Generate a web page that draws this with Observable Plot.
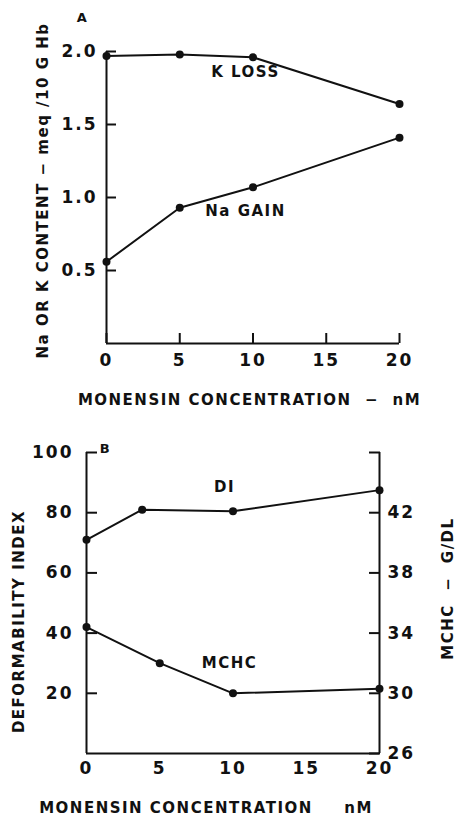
<!DOCTYPE html>
<html>
<head>
<meta charset="utf-8">
<script src="https://cdn.jsdelivr.net/npm/d3@7"></script>
<script src="https://cdn.jsdelivr.net/npm/@observablehq/plot@0.6"></script>
<style>
  html, body { margin: 0; padding: 0; background: #fff; }
  #chart { width: 458px; }
  #chart svg { display: block; }
  #chart svg text { letter-spacing: 1.5px; }
  #chart svg g[aria-label$="tick label"] text { letter-spacing: 2px; }
</style>
</head>
<body>
<div id="chart"></div>
<script>
// ---------- Panel A data ----------
const concA = [0, 5, 10, 20];
const kLoss = [1.97, 1.98, 1.96, 1.64];
const naGain = [0.56, 0.93, 1.07, 1.41];
const xTicks = [0, 5, 10, 15, 20];
const yTicksA = [0.5, 1.0, 1.5, 2.0];

// ---------- Panel B data ----------
const concDI = [0, 3.8, 10, 20];
const diValues = [71, 81, 80.5, 87.5];
const concMCHC = [0, 5, 10, 20];
const mchcValues = [34.4, 32.0, 30.0, 30.3];
const yTicksDI = [20, 40, 60, 80, 100];
const yTicksMCHC = [26, 30, 34, 38, 42, 46];

const FONT = "'DejaVu Sans', sans-serif";
const INK = "#111";

// right-axis (MCHC, 26..46) mapped onto left-axis (DI, 0..100)
const mchcToDI = v => (v - 26) * 5;
const diToMchc = v => v / 5 + 26;

const kData = concA.map((x, i) => ({x, y: kLoss[i]}));
const naData = concA.map((x, i) => ({x, y: naGain[i]}));
const diData = concDI.map((x, i) => ({x, y: diValues[i]}));
const mchcData = concMCHC.map((x, i) => ({x, y: mchcToDI(mchcValues[i])}));

const baseStyle = {fontFamily: FONT, fontWeight: "bold", fontSize: "15px", color: INK, background: "#fff", overflow: "visible"};
const tickFont = {fontSize: 17, fontWeight: "bold", fontFamily: FONT};
const centered = {textAnchor: "middle", lineAnchor: "middle", fill: INK};

const plotA = Plot.plot({
  width: 458, height: 410,
  marginLeft: 106, marginRight: 59, marginTop: 51, marginBottom: 67,
  style: baseStyle,
  x: {domain: [0, 20]},
  y: {domain: [0, 2]},
  marks: [
    Plot.ruleX([0], {stroke: INK, strokeWidth: 2}),
    Plot.ruleY([0], {stroke: INK, strokeWidth: 2}),
    Plot.axisX(xTicks, {tickSize: -10, tickPadding: 20, stroke: INK, strokeWidth: 2, fill: INK, label: null, ...tickFont}),
    Plot.axisY(yTicksA, {tickSize: -10, tickPadding: 19, tickFormat: d3.format(".1f"), stroke: INK, strokeWidth: 2, fill: INK, label: null, ...tickFont}),
    Plot.line(kData, {x: "x", y: "y", stroke: INK, strokeWidth: 2}),
    Plot.line(naData, {x: "x", y: "y", stroke: INK, strokeWidth: 2}),
    Plot.dot(kData.concat(naData), {x: "x", y: "y", r: 4, fill: INK, stroke: "none"}),
    Plot.text([{x: concA[2], y: kLoss[2], t: "K LOSS"}], {x: "x", y: "y", text: "t", dx: -7.5, dy: 15, ...centered}),
    Plot.text([{x: concA[2], y: naGain[2], t: "Na GAIN"}], {x: "x", y: "y", text: "t", dx: -7.5, dy: 24, ...centered}),
    Plot.text(["A"], {frameAnchor: "top-left", dx: -24, dy: -34, fontSize: 13, ...centered}),
    Plot.text(["Na OR K CONTENT − meq /10 G Hb"], {frameAnchor: "left", rotate: -90, dx: -63, dy: -7, ...centered}),
    Plot.text(["MONENSIN CONCENTRATION  −  nM"], {frameAnchor: "bottom", dx: -3.5, dy: 57, ...centered})
  ]
});

const plotB = Plot.plot({
  width: 458, height: 410,
  marginLeft: 86, marginRight: 79, marginTop: 42, marginBottom: 67,
  style: baseStyle,
  x: {domain: [0, 20]},
  y: {domain: [0, 100]},
  marks: [
    Plot.ruleX([0], {stroke: INK, strokeWidth: 2}),
    Plot.ruleX([20], {stroke: INK, strokeWidth: 2}),
    Plot.ruleY([0], {stroke: INK, strokeWidth: 2}),
    Plot.axisX(xTicks, {tickSize: 0, tickPadding: 8, fill: INK, label: null, ...tickFont}),
    Plot.axisY(yTicksDI, {anchor: "left", tickSize: -11, tickPadding: 24, stroke: INK, strokeWidth: 2, fill: INK, label: null, ...tickFont}),
    Plot.axisY(yTicksMCHC.map(mchcToDI), {anchor: "right", tickSize: -11, tickPadding: 19, tickFormat: d => d >= 100 ? "" : String(Math.round(diToMchc(d))), stroke: INK, strokeWidth: 2, fill: INK, label: null, ...tickFont}),
    Plot.line(diData, {x: "x", y: "y", stroke: INK, strokeWidth: 2}),
    Plot.line(mchcData, {x: "x", y: "y", stroke: INK, strokeWidth: 2}),
    Plot.dot(diData.concat(mchcData), {x: "x", y: "y", r: 4, fill: INK, stroke: "none"}),
    Plot.text([{x: concDI[2], y: diValues[2], t: "DI"}], {x: "x", y: "y", text: "t", dx: -8.5, dy: -24, ...centered}),
    Plot.text([{x: concMCHC[2], y: mchcToDI(mchcValues[2]), t: "MCHC"}], {x: "x", y: "y", text: "t", dx: -3.5, dy: -30, ...centered}),
    Plot.text(["B"], {frameAnchor: "top-left", dx: 19, dy: -4, fontSize: 13, ...centered}),
    Plot.text(["DEFORMABILITY INDEX"], {frameAnchor: "left", rotate: -90, dx: -67.5, dy: 18.5, ...centered}),
    Plot.text(["MCHC  −  G/DL"], {frameAnchor: "right", rotate: -90, dx: 69, dy: -14.5, ...centered}),
    Plot.text(["MONENSIN CONCENTRATION"], {frameAnchor: "bottom-left", dx: 89.5, dy: 55, ...centered}),
    Plot.text(["nM"], {frameAnchor: "bottom-right", dx: -21, dy: 55, ...centered})
  ]
});

const root = document.getElementById("chart");
root.append(plotA, plotB);
</script>
</body>
</html>
